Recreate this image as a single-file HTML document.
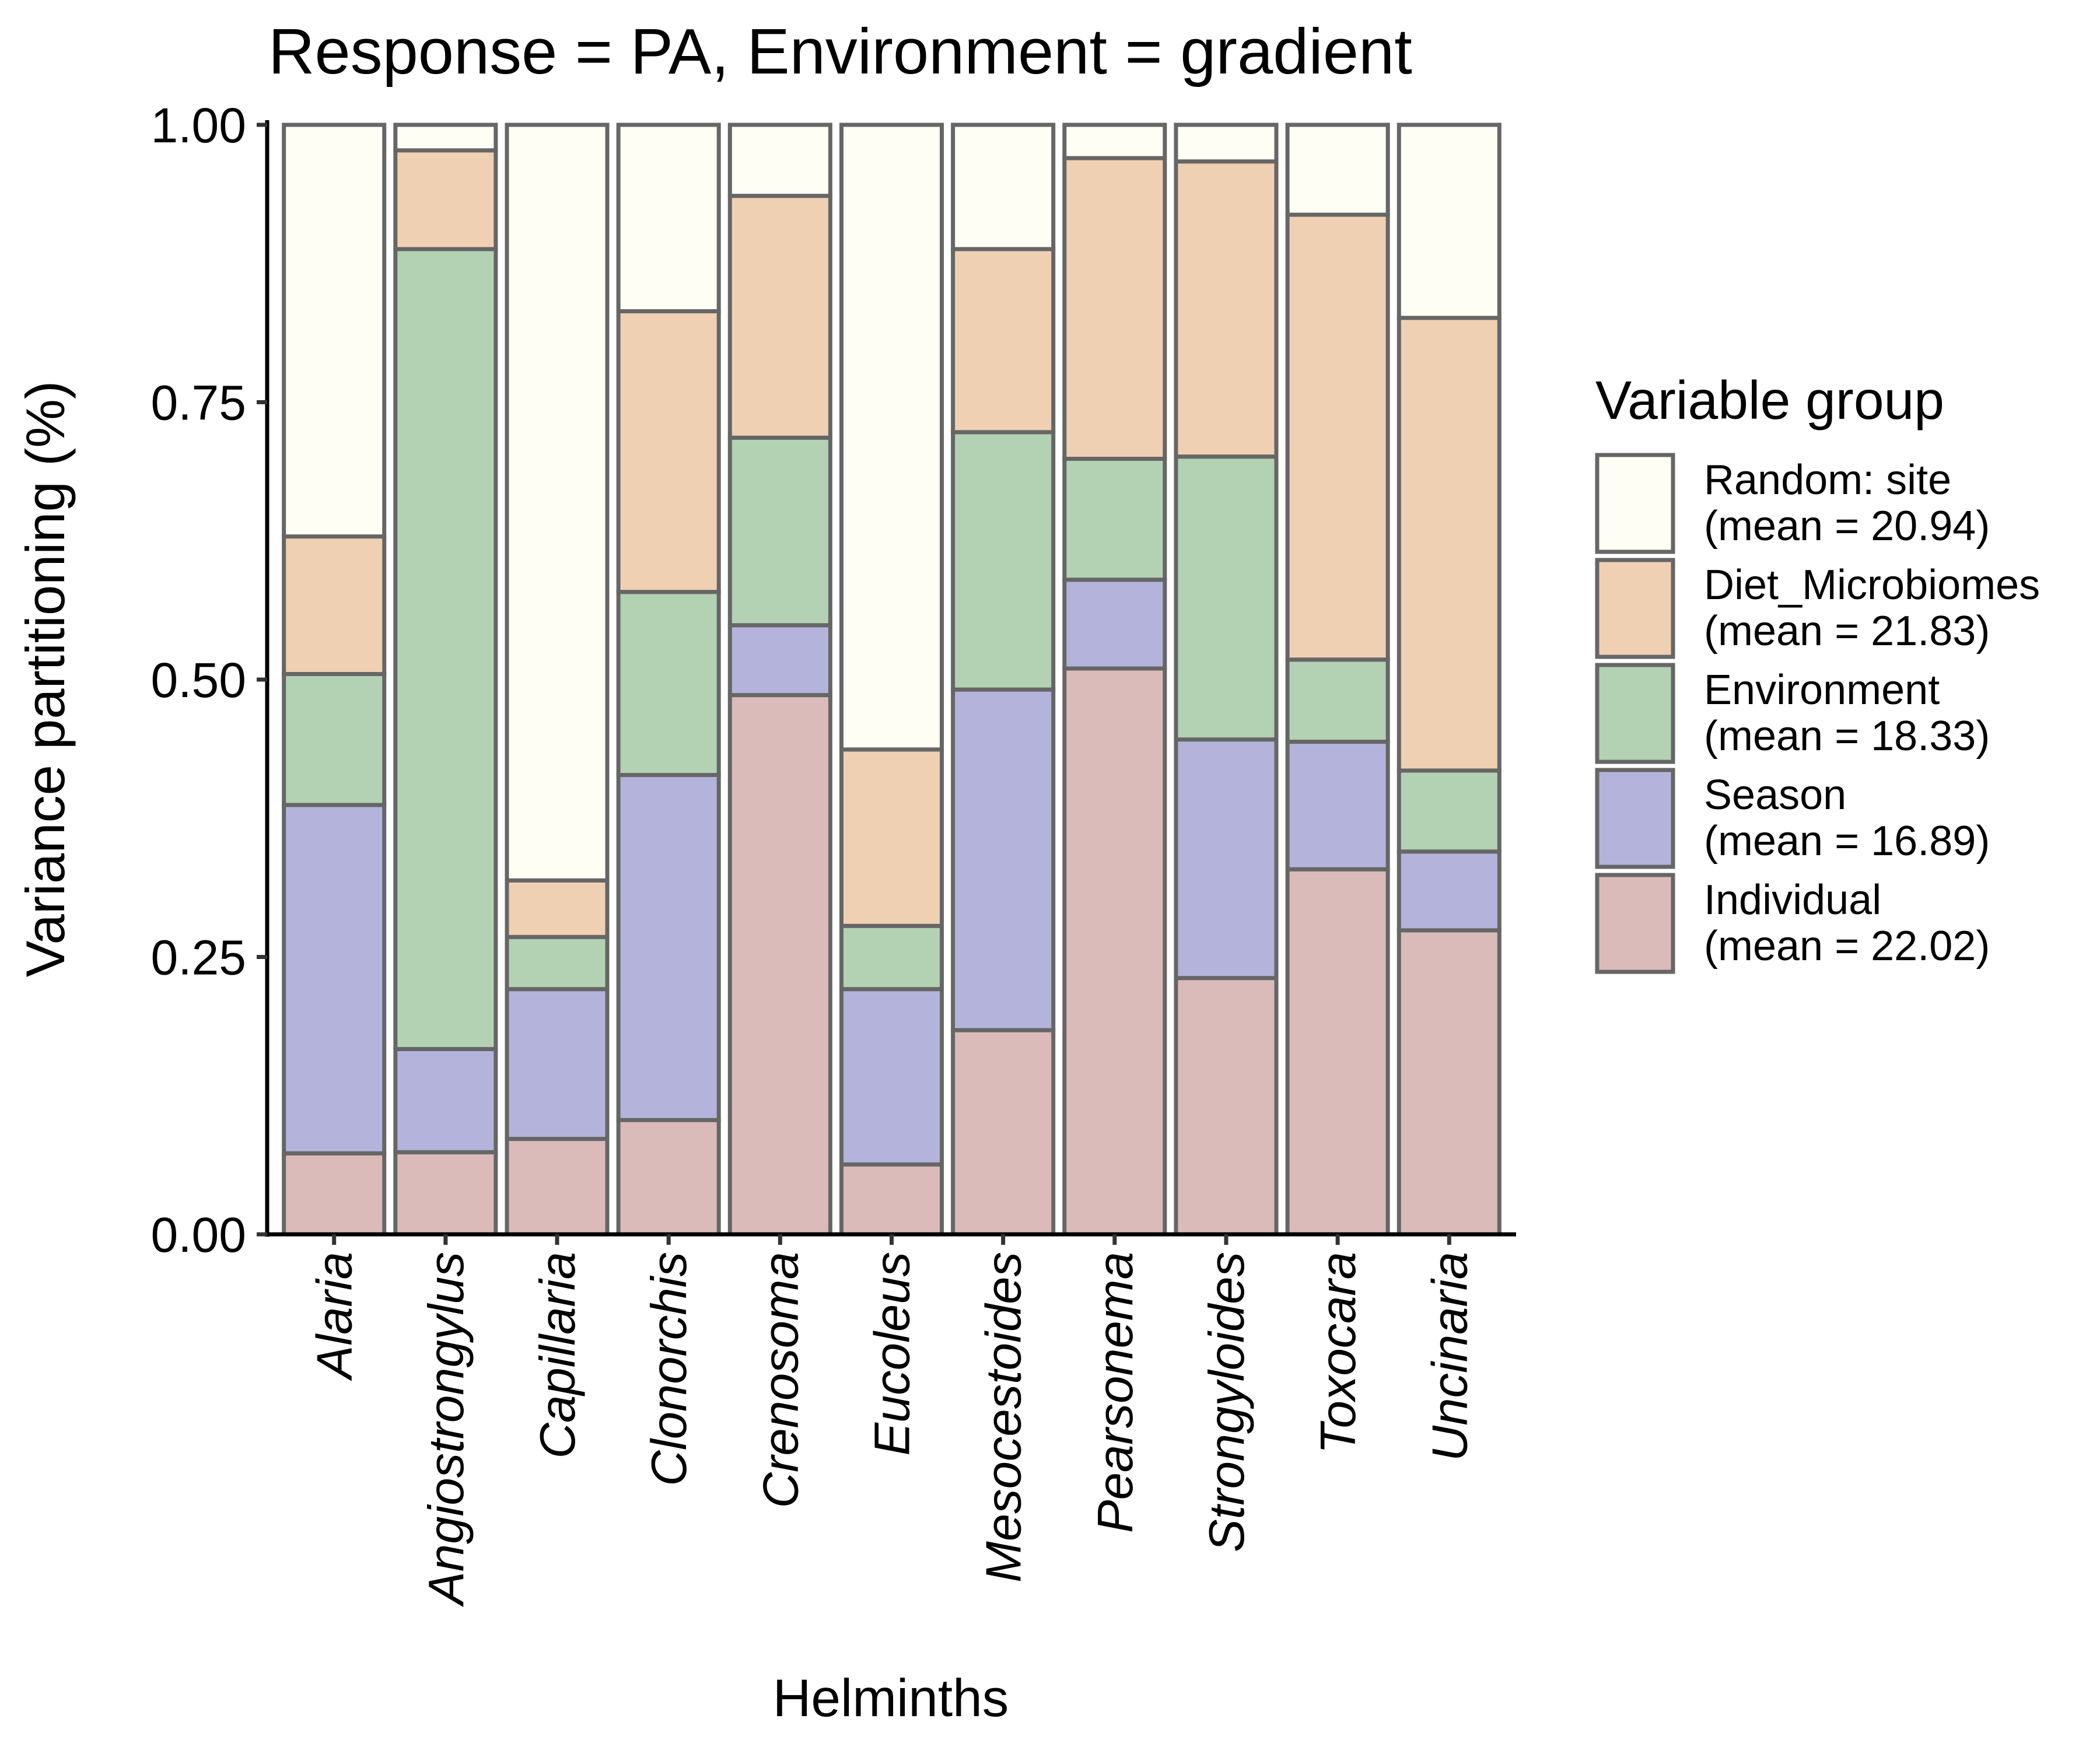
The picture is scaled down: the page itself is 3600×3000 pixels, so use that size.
<!DOCTYPE html>
<html><head><meta charset="utf-8"><style>
html,body{margin:0;padding:0;background:#fff;}
svg{display:block;font-family:"Liberation Sans",sans-serif;}
</style></head><body>
<svg id="chart" width="3600" height="3000" viewBox="0 0 3600 3000" xmlns="http://www.w3.org/2000/svg">
<rect width="3600" height="3000" fill="#fff"/>
<text x="460" y="126" font-size="110" fill="#000">Response = PA, Environment = gradient</text>
<text transform="translate(110,1164) rotate(-90)" text-anchor="middle" font-size="94" fill="#000">Variance partitioning (%)</text>
<text x="1527" y="2942" text-anchor="middle" font-size="91" fill="#000">Helminths</text>
<g id="bars"></g>
<g id="axes"></g>
<g id="legend"></g>
</svg>
<script>
const categories = ["Alaria","Angiostrongylus","Capillaria","Clonorchis","Crenosoma","Eucoleus","Mesocestoides","Pearsonema","Strongyloides","Toxocara","Uncinaria"];
const individual = [0.073,0.074,0.086,0.103,0.486,0.063,0.184,0.510,0.231,0.329,0.274];
const season = [0.314,0.093,0.135,0.311,0.063,0.158,0.307,0.080,0.215,0.115,0.071];
const environment = [0.118,0.721,0.047,0.165,0.169,0.057,0.232,0.109,0.255,0.074,0.073];
const diet = [0.124,0.089,0.051,0.253,0.218,0.159,0.165,0.271,0.266,0.401,0.408];
const randomSite = [0.371,0.023,0.681,0.168,0.064,0.563,0.112,0.030,0.033,0.081,0.174];
const yTicks = [0,0.25,0.5,0.75,1];
const yTickLabels = ["0.00","0.25","0.50","0.75","1.00"];
const legendLabels = [["Random: site","(mean = 20.94)"],["Diet_Microbiomes","(mean = 21.83)"],["Environment","(mean = 18.33)"],["Season","(mean = 16.89)"],["Individual","(mean = 22.02)"]];

const NS="http://www.w3.org/2000/svg";
const X0=458, X1=2599, Y0=2116, Y1=214;
const step=(X1-X0)/(categories.length+0.2);
function xs(i){return X0+step*(0.6+i);}
function ys(v){return Y0-(Y0-Y1)*v;}
const colors={ind:"#DBBBBA",sea:"#B3B3DB",env:"#B3D1B3",diet:"#F0D0B3",rnd:"#FFFEF5"};
const stroke="#666666";
function mk(tag,attrs,parent){const e=document.createElementNS(NS,tag);for(const k in attrs)e.setAttribute(k,attrs[k]);parent.appendChild(e);return e;}

const bars=document.getElementById('bars');
const series=[["individual",individual,colors.ind],["season",season,colors.sea],["environment",environment,colors.env],["diet",diet,colors.diet],["random-site",randomSite,colors.rnd]];
categories.forEach((c,i)=>{
  let cum=0;const w=step*0.9;const cx=xs(i);
  series.forEach(s=>{
    const v=s[1][i];
    const yTop=ys(cum+v), yBot=ys(cum);
    const r=mk('rect',{x:cx-w/2,y:yTop,width:w,height:yBot-yTop,fill:s[2],stroke:stroke,'stroke-width':7},bars);
    
    
    cum+=v;
  });
});

const axes=document.getElementById('axes');
const yl=mk('line',{x1:X0,y1:Y1-8,x2:X0,y2:Y0+4,stroke:'#000','stroke-width':7},axes);


const xl=mk('line',{x1:X0-4,y1:Y0,x2:X1,y2:Y0,stroke:'#000','stroke-width':7},axes);


yTicks.forEach((t,k)=>{
  const tk=mk('line',{x1:X0-18,y1:ys(t),x2:X0,y2:ys(t),stroke:'#333','stroke-width':7},axes);
  
  
  const tx=mk('text',{x:X0-36,y:ys(t)+30,'text-anchor':'end','font-size':84,fill:'#000'},axes);
  
  
  tx.textContent=yTickLabels[k];
});
categories.forEach((c,i)=>{
  const cx=xs(i);
  const tk=mk('line',{x1:cx,y1:Y0,x2:cx,y2:Y0+18,stroke:'#333','stroke-width':7},axes);
  
  
  const tx=mk('text',{transform:`translate(${cx+30},${Y0+30}) rotate(-90)`,'text-anchor':'end','font-size':85,'font-style':'italic',fill:'#000'},axes);
  
  
  tx.textContent=c;
});

const lg=document.getElementById('legend');
const lt=mk('text',{x:2735,y:718,'font-size':93,fill:'#000'},lg);


lt.textContent="Variable group";
const lcol=[colors.rnd,colors.diet,colors.env,colors.sea,colors.ind];
legendLabels.forEach((l,k)=>{
  const top=777+k*180;
  const g=mk('g',{},lg);
  
  
  const r=mk('rect',{x:2738,y:top+3,width:130,height:166,fill:lcol[k],stroke:stroke,'stroke-width':7},g);
  
  
  const t1=mk('text',{x:2921,y:top+70,'font-size':72,fill:'#000'},g);
  
  
  t1.textContent=l[0];
  const t2=mk('text',{x:2921,y:top+149,'font-size':72,fill:'#000'},g);
  
  
  t2.textContent=l[1];
});
</script>
</body></html>
